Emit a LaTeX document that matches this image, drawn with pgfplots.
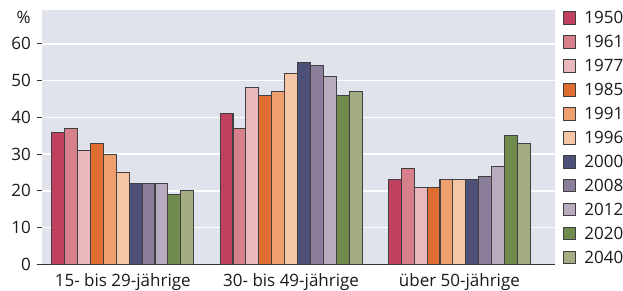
\documentclass[border=0pt]{standalone}
\usepackage{fontspec}
\setmainfont{Open Sans}
\usepackage{pgfplots}
\pgfplotsset{compat=1.18}
\definecolor{c1950}{HTML}{C0415F}
\definecolor{c1961}{HTML}{D5808B}
\definecolor{c1977}{HTML}{E8B8BC}
\definecolor{c1985}{HTML}{E06D30}
\definecolor{c1991}{HTML}{EF9E6E}
\definecolor{c1996}{HTML}{F5C6A6}
\definecolor{c2000}{HTML}{4D5078}
\definecolor{c2008}{HTML}{8A7E9A}
\definecolor{c2012}{HTML}{B8ABC0}
\definecolor{c2020}{HTML}{6F8B4D}
\definecolor{c2040}{HTML}{A4AD82}
\definecolor{bgc}{HTML}{E0E3EB}
\definecolor{axc}{HTML}{333333}
\definecolor{edge}{HTML}{404040}
\definecolor{txt}{HTML}{1A1A1A}
\newcommand{\lf}{\fontsize{17}{20}\selectfont}
\begin{document}
\lf
\begin{tikzpicture}
\begin{axis}[
  name=ax,
  scale only axis, width=513pt, height=254.3pt,
  xmin=-0.4816, xmax=2.568, ymin=0, ymax=69.2,
  ybar=0pt, bar width=12.9pt,
  xtick={0,1,2},
  xticklabels={15- bis 29-jährige, 30- bis 49-jährige, über 50-jährige},
  ytick={0,10,20,30,40,50,60},
  ymajorgrids, grid style={white, line width=1.5pt},
  axis background/.style={fill=bgc},
  axis x line*=bottom, axis y line*=left,
  every outer x axis line/.append style={-},
  every outer y axis line/.append style={-},
  x axis line style={draw=axc, line width=1pt, shorten <=-5pt, -},
  y axis line style={draw=none},
  x tick style={draw=none},
  y tick style={draw=axc, line width=1pt},
  ytick align=outside, major tick length=5pt,
  tick label style={font=\lf, text=txt},
  xticklabel style={yshift=2pt},
  /pgf/number format/assume math mode=true,
  ylabel={\%}, ylabel style={rotate=-90, anchor=center, at={(axis description cs:0,1)}, xshift=-18pt, yshift=-7pt, font=\lf, text=txt},
  every axis plot/.append style={draw=edge, line width=1.1pt},
  legend image code/.code={\draw[#1, line width=1pt] (0pt,-7pt) rectangle (12.5pt,5.5pt);},
  legend style={draw=none, fill=none, at={(1,1)}, anchor=north west, xshift=8pt, yshift=-1pt,
    inner sep=0pt, outer sep=0pt, row sep=10.2pt, font=\lf, text=txt,
    nodes={inner sep=0pt, text height=12.5pt, text depth=0pt},
    /tikz/every odd column/.append style={column sep=8pt}},
  legend cell align=left,
]
\addplot[fill=c1950] coordinates {(0,36) (1,41) (2,23)};
\addplot[fill=c1961] coordinates {(0,37) (1,37) (2,26)};
\addplot[fill=c1977] coordinates {(0,31) (1,48) (2,21)};
\addplot[fill=c1985] coordinates {(0,33) (1,46) (2,20.8)};
\addplot[fill=c1991] coordinates {(0,30) (1,47) (2,23)};
\addplot[fill=c1996] coordinates {(0,25) (1,52) (2,23)};
\addplot[fill=c2000] coordinates {(0,22) (1,55) (2,23)};
\addplot[fill=c2008] coordinates {(0,22) (1,54) (2,24)};
\addplot[fill=c2012] coordinates {(0,22) (1,51) (2,26.7)};
\addplot[fill=c2020] coordinates {(0,19) (1,46) (2,35)};
\addplot[fill=c2040] coordinates {(0,20) (1,47) (2,33)};
\legend{1950,1961,1977,1985,1991,1996,2000,2008,2012,2020,2040}
\end{axis}
\pgfresetboundingbox
\useasboundingbox ([shift={(-41.7pt,-25.7pt)}]ax.south west) rectangle ([shift={(68pt,10pt)}]ax.north east);
\end{tikzpicture}
\end{document}
